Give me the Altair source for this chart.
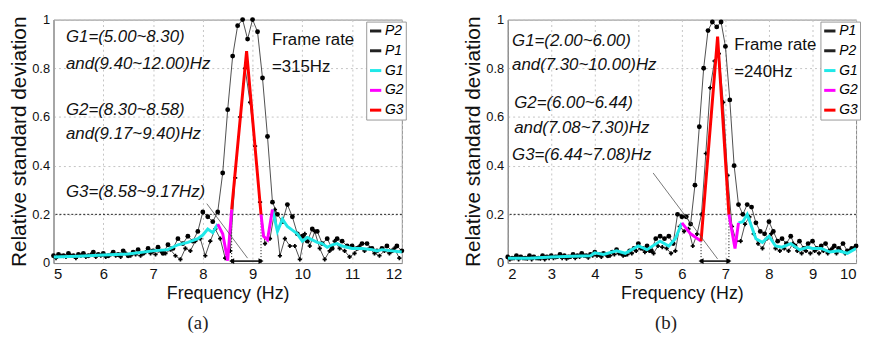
import altair as alt
import numpy as np
import pandas as pd

FONT = "Liberation Sans"

# ---------------- panel (a): frame rate 315 Hz ----------------
A_P1_X = np.round(np.arange(5.0, 12.0001, 0.1), 2)
A_P1_Y = [0.03, 0.035, 0.03, 0.04, 0.03, 0.035, 0.04, 0.03, 0.045, 0.035,
          0.04, 0.03, 0.045, 0.035, 0.05, 0.03, 0.045, 0.055, 0.04, 0.06,
          0.05, 0.065, 0.04, 0.075, 0.06, 0.10, 0.08, 0.11, 0.09, 0.13,
          0.21, 0.19, 0.17, 0.21, 0.37, 0.63, 0.85, 0.975, 1.0, 0.92,
          1.0, 0.95, 0.76, 0.52, 0.25, 0.20, 0.17, 0.24, 0.19, 0.12,
          0.11, 0.09, 0.14, 0.13, 0.08, 0.10, 0.06, 0.10, 0.09, 0.07,
          0.07, 0.06, 0.08, 0.08, 0.06, 0.05, 0.06, 0.07, 0.05, 0.07, 0.05]
A_P2_X = np.round(np.arange(5.05, 11.96, 0.1), 2)
A_P2_Y = [0.02, 0.03, 0.025, 0.03, 0.02, 0.03, 0.025, 0.035, 0.025, 0.03,
          0.025, 0.035, 0.03, 0.025, 0.04, 0.03, 0.035, 0.03, 0.045, 0.04,
          0.035, 0.05, 0.04, 0.055, 0.03, 0.015, 0.06, 0.05, 0.09, 0.10,
          0.03, 0.09, 0.14, 0.10, 0.02, 0.05, 0.35, 0.60, 0.80, 0.66,
          0.48, 0.25, 0.08, 0.10, 0.22, 0.03, 0.10, 0.07, 0.07, 0.015,
          0.12, 0.07, 0.13, 0.06, 0.015, 0.05, 0.09, 0.06, 0.05, 0.025,
          0.04, 0.07, 0.05, 0.06, 0.04, 0.03, 0.05, 0.04, 0.06, 0.02]
A_G1_SEGS = [
    ([5.0, 5.5, 6.0, 6.5, 7.0, 7.3, 7.5, 7.7, 7.9, 8.0, 8.1, 8.2, 8.3],
     [0.025, 0.028, 0.033, 0.037, 0.05, 0.055, 0.075, 0.085, 0.10, 0.115, 0.14, 0.125, 0.16]),
    ([9.4, 9.5, 9.6, 9.7, 9.8, 9.9, 10.0, 10.1, 10.2, 10.3, 10.4, 10.5, 10.6, 10.7,
      10.8, 10.9, 11.0, 11.2, 11.4, 11.5, 11.6, 11.8, 12.0],
     [0.22, 0.13, 0.18, 0.15, 0.135, 0.12, 0.09, 0.105, 0.095, 0.085, 0.08, 0.065, 0.075, 0.08,
      0.07, 0.065, 0.06, 0.06, 0.055, 0.05, 0.055, 0.05, 0.045]),
]
A_G2_SEGS = [
    ([8.30, 8.40, 8.50, 8.58], [0.16, 0.12, 0.01, 0.22]),
    ([9.17, 9.22, 9.30, 9.40], [0.20, 0.11, 0.095, 0.22]),
]
A_G3_SEGS = [([8.58, 8.88, 9.17], [0.22, 0.87, 0.20])]
A_G3_BOUNDS = [8.58, 9.17]
A_G3_TOPS = [0.22, 0.20]
A_LEADER = ([8.08], [0.244], [8.90], [0.02])
A_NOTES = ["G1=(5.00~8.30)", "and(9.40~12.00)Hz", "G2=(8.30~8.58)", "and(9.17~9.40)Hz", "G3=(8.58~9.17Hz)"]
A_NOTES_X = [5.25, 5.25, 5.25, 5.25, 5.25]
A_NOTES_Y = [0.927, 0.817, 0.63, 0.528, 0.29]
A_FRAME = ["Frame rate", "=315Hz"]
A_FRAME_X = [9.39, 9.39]
A_FRAME_Y = [0.915, 0.805]
A_ORDER = ["P2", "P1", "G1", "G2", "G3"]

# ---------------- panel (b): frame rate 240 Hz ----------------
B_P1_X = np.round(np.arange(2.0, 10.0001, 0.1), 2)
B_P1_Y = [0.025, 0.02, 0.03, 0.025, 0.02, 0.03, 0.025, 0.02, 0.03, 0.025,
          0.03, 0.025, 0.035, 0.03, 0.025, 0.035, 0.03, 0.04, 0.03, 0.035,
          0.045, 0.035, 0.04, 0.03, 0.045, 0.055, 0.04, 0.035, 0.05, 0.06,
          0.08, 0.06, 0.07, 0.05, 0.10, 0.11, 0.10, 0.11, 0.08, 0.20,
          0.19, 0.19, 0.16, 0.32, 0.56, 0.80, 0.955, 0.99, 0.97, 0.99,
          0.89, 0.67, 0.40, 0.24, 0.20, 0.24, 0.23, 0.165, 0.13, 0.12,
          0.17, 0.13, 0.09, 0.10, 0.08, 0.11, 0.07, 0.09, 0.06, 0.08,
          0.09, 0.06, 0.07, 0.08, 0.05, 0.07, 0.06, 0.08, 0.05, 0.06, 0.07]
B_P2_X = np.round(np.arange(2.05, 9.96, 0.1), 2)
B_P2_Y = [0.015, 0.02, 0.015, 0.02, 0.018, 0.015, 0.02, 0.018, 0.015, 0.02,
          0.02, 0.025, 0.02, 0.018, 0.025, 0.02, 0.025, 0.03, 0.022, 0.03,
          0.03, 0.025, 0.035, 0.03, 0.035, 0.04, 0.03, 0.035, 0.04, 0.05,
          0.06, 0.045, 0.05, 0.04, 0.07, 0.065, 0.06, 0.04, 0.05, 0.15,
          0.13, 0.14, 0.07, 0.12, 0.20, 0.45, 0.72, 0.83, 0.86, 0.66,
          0.36, 0.15, 0.09, 0.09, 0.16, 0.19, 0.12, 0.08, 0.06, 0.10,
          0.12, 0.06, 0.05, 0.06, 0.05, 0.08, 0.05, 0.04, 0.05, 0.04,
          0.05, 0.04, 0.05, 0.04, 0.06, 0.04, 0.05, 0.04, 0.05, 0.06]
B_G1_SEGS = [
    ([2.0, 2.5, 3.0, 3.5, 3.9, 4.0, 4.2, 4.5, 4.7, 5.0, 5.2, 5.5, 5.7, 5.85, 6.0],
     [0.02, 0.02, 0.025, 0.028, 0.03, 0.042, 0.035, 0.05, 0.04, 0.07, 0.055, 0.09, 0.07, 0.10, 0.165]),
    ([7.3, 7.4, 7.5, 7.6, 7.7, 7.85, 8.0, 8.15, 8.3, 8.5, 8.7, 8.9, 9.0, 9.2, 9.4, 9.6, 9.8, 10.0],
     [0.165, 0.17, 0.20, 0.15, 0.10, 0.085, 0.11, 0.07, 0.065, 0.08, 0.055, 0.065, 0.06, 0.06, 0.045, 0.05, 0.04, 0.06]),
]
B_G2_SEGS = [
    ([6.00, 6.20, 6.44], [0.165, 0.12, 0.09]),
    ([7.08, 7.22, 7.30], [0.20, 0.06, 0.165]),
]
B_G3_SEGS = [([6.44, 6.82, 7.08], [0.09, 0.93, 0.20])]
B_G3_BOUNDS = [6.44, 7.08]
B_G3_TOPS = [0.09, 0.20]
B_LEADER = ([5.34], [0.37], [6.82], [0.017])
B_NOTES = ["G1=(2.00~6.00)", "and(7.30~10.00)Hz", "G2=(6.00~6.44)", "and(7.08~7.30)Hz", "G3=(6.44~7.08)Hz"]
B_NOTES_X = [2.1, 2.1, 2.15, 2.15, 2.1]
B_NOTES_Y = [0.91, 0.814, 0.657, 0.553, 0.442]
B_FRAME = ["Frame rate", "=240Hz"]
B_FRAME_X = [7.2, 7.2]
B_FRAME_Y = [0.897, 0.785]
B_ORDER = ["P1", "P2", "G1", "G2", "G3"]

SERIES_COLOR = {"P1": "#222222", "P2": "#222222", "G1": "#1fe8e8", "G2": "#ff00ff", "G3": "#ff0000"}

W, H = 352, 246


def panel(xmin, xmax, p1x, p1y, p2x, p2y, g1, g2, g3, bounds, tops, leader,
          notes, nx, ny, frame, fx, fy, order, caption, cap_dx):
    rows = []
    for x, y in zip(p1x, p1y):
        rows.append({"x": float(x), "y": y, "series": "P1", "seg": "P1"})
    for x, y in zip(p2x, p2y):
        rows.append({"x": float(x), "y": y, "series": "P2", "seg": "P2"})
    for name, segs in (("G1", g1), ("G2", g2), ("G3", g3)):
        for k, (xs, ys) in enumerate(segs):
            for x, y in zip(xs, ys):
                rows.append({"x": x, "y": y, "series": name, "seg": f"{name}_{k}"})
    df = pd.DataFrame(rows)

    X = alt.X("x:Q", scale=alt.Scale(domain=[xmin, xmax], nice=False),
              axis=alt.Axis(values=list(range(xmin, xmax + 1)), format="d", title="Frequency (Hz)"))
    Y = alt.Y("y:Q", scale=alt.Scale(domain=[0, 1], nice=False),
              axis=alt.Axis(values=[0, 0.2, 0.4, 0.6, 0.8, 1.0], format="~g",
                            title="Relative standard deviation"))
    leg = alt.Legend(title=None, orient="none", legendX=W - 36, legendY=2,
                     symbolType="stroke", symbolSize=130, symbolStrokeWidth=3,
                     fillColor="white", strokeColor="#999999", padding=2, rowPadding=5,
                     labelFont=FONT, labelFontSize=14, labelFontStyle="italic",
                     labelOffset=2)
    C = alt.Color("series:N", scale=alt.Scale(domain=order, range=[SERIES_COLOR[s] for s in order]), legend=leg)

    base = alt.Chart(df)
    black = base.transform_filter(alt.FieldOneOfPredicate(field="series", oneOf=["P1", "P2"])).mark_line(
        clip=True, strokeWidth=0.8).encode(x=X, y=Y, color=C, detail="seg:N")
    colored = base.transform_filter(alt.FieldOneOfPredicate(field="series", oneOf=["G1", "G2", "G3"])).mark_line(
        clip=True, strokeWidth=3).encode(x=X, y=Y, color=C, detail="seg:N")

    p1pts = alt.Chart(pd.DataFrame({"x": p1x, "y": p1y})).mark_point(
        filled=True, color="black", size=24, shape="circle", opacity=1).encode(x=X, y=Y)
    p2pts = alt.Chart(pd.DataFrame({"x": p2x, "y": p2y})).mark_point(
        filled=True, color="black", size=18, shape="cross", opacity=1).encode(x=X, y=Y)

    thresh = alt.Chart(pd.DataFrame({"y": [0.2]})).mark_rule(
        color="#222222", strokeDash=[2, 2], strokeWidth=1).encode(y=Y)

    vlines = alt.Chart(pd.DataFrame({"x": bounds, "y": [0, 0], "y2": tops})).mark_rule(
        color="black", strokeDash=[1, 2], strokeWidth=1).encode(x=X, y=Y, y2="y2:Q")

    arrow = alt.Chart(pd.DataFrame({"x": [bounds[0]], "x2": [bounds[1]], "y": [0.008]})).mark_rule(
        color="black", strokeWidth=1.5).encode(x=X, x2="x2:Q", y=Y)
    heads = alt.Chart(pd.DataFrame({"x": bounds, "y": [0.008, 0.008],
                                    "s": ["triangle-left", "triangle-right"]})).mark_point(
        filled=True, color="black", size=35, opacity=1).encode(
        x=X, y=Y, shape=alt.Shape("s:N", scale=None, legend=None))

    lead = alt.Chart(pd.DataFrame({"x": leader[0], "y": leader[1], "x2": leader[2], "y2": leader[3]})).mark_rule(
        color="#555555", strokeWidth=0.8).encode(x=X, y=Y, x2="x2:Q", y2="y2:Q")

    note_txt = alt.Chart(pd.DataFrame({"x": nx, "y": ny, "t": notes})).mark_text(
        align="left", baseline="middle", font=FONT, fontSize=17, fontStyle="italic", color="#111111").encode(
        x=X, y=Y, text="t:N")
    frame_txt = alt.Chart(pd.DataFrame({"x": fx, "y": fy, "t": frame})).mark_text(
        align="left", baseline="middle", font=FONT, fontSize=17, color="#111111").encode(
        x=X, y=Y, text="t:N")

    layer = alt.layer(thresh, vlines, black, p1pts, p2pts, colored, lead, arrow, heads,
                      note_txt, frame_txt).properties(
        width=W, height=H,
        title=alt.TitleParams(text=caption, orient="bottom", font="Liberation Serif", fontSize=19,
                              fontWeight="normal", color="#222222", anchor="middle", dx=cap_dx, offset=12))
    return layer


left = panel(5, 12, A_P1_X, A_P1_Y, A_P2_X, A_P2_Y, A_G1_SEGS, A_G2_SEGS, A_G3_SEGS, A_G3_BOUNDS, A_G3_TOPS,
             A_LEADER, A_NOTES, A_NOTES_X, A_NOTES_Y, A_FRAME, A_FRAME_X, A_FRAME_Y, A_ORDER, "(a)", -30)
right = panel(2, 10, B_P1_X, B_P1_Y, B_P2_X, B_P2_Y, B_G1_SEGS, B_G2_SEGS, B_G3_SEGS, B_G3_BOUNDS, B_G3_TOPS,
              B_LEADER, B_NOTES, B_NOTES_X, B_NOTES_Y, B_FRAME, B_FRAME_X, B_FRAME_Y, B_ORDER, "(b)", -16)

chart = alt.hconcat(left, right, spacing=56).resolve_scale(
    color="independent", shape="independent"
).properties(
    padding={"left": 0, "top": 3, "right": 0, "bottom": 0}
).configure_view(
    stroke="#888888"
).configure_axis(
    labelFont=FONT, titleFont=FONT, titleFontWeight="normal", labelColor="#111111", titleColor="#111111",
    gridDash=[2, 3], gridColor="#c4c4c4", domainColor="#888888", ticks=False, labelPadding=4,
).configure_axisX(
    labelFontSize=15, titleFontSize=18, titlePadding=3
).configure_axisY(
    labelFontSize=13, titleFontSize=21, titlePadding=2
)

chart.save("out.html", embed_options={"renderer": "svg", "actions": False})
